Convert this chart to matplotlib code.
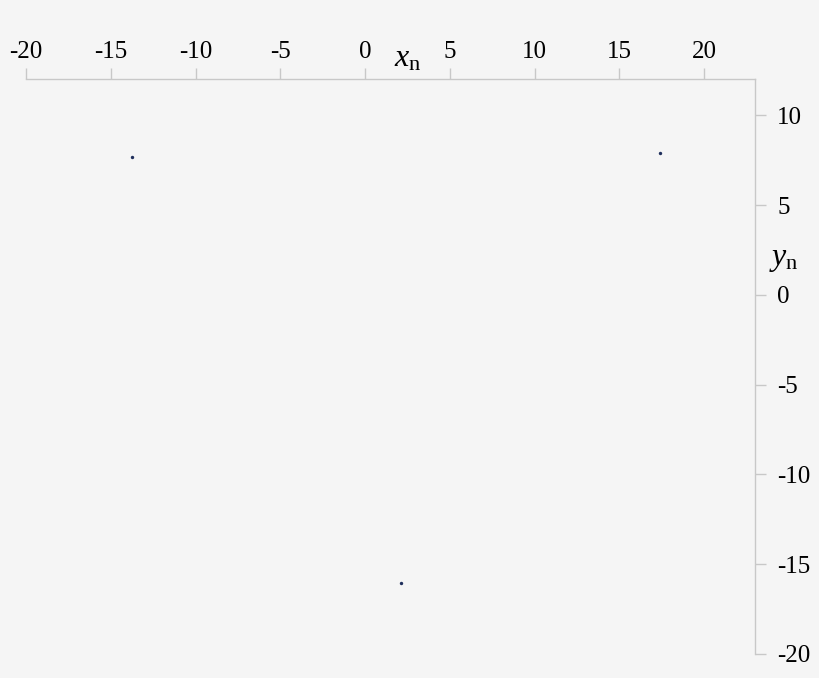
import matplotlib.pyplot as plt

# data
xn = [-13.73, 17.42, 2.14]
yn = [7.66, 7.92, -16.06]
xticks = [-20, -15, -10, -5, 0, 5, 10, 15, 20]
yticks = [10, 5, 0, -5, -10, -15, -20]

bg = '#f5f5f5'
axis_col = '#c8c8c8'

plt.rcParams['font.family'] = ['Liberation Serif', 'DejaVu Serif']
plt.rcParams['mathtext.fontset'] = 'custom'
plt.rcParams['mathtext.rm'] = 'Liberation Serif'
plt.rcParams['mathtext.it'] = 'Liberation Serif:italic'

fig = plt.figure(figsize=(8.2, 6.78), dpi=100, facecolor=bg)
ax = fig.add_axes([0.0317, 0.0354, 0.889, 0.8476], facecolor=bg)

ax.scatter(xn, yn, s=6, color='#1f2f5c', linewidths=0, zorder=3)

ax.set_xlim(-20, 23)
ax.set_ylim(-20, 12)

for side in ['left', 'bottom']:
    ax.spines[side].set_visible(False)
for side in ['top', 'right']:
    ax.spines[side].set_color(axis_col)
    ax.spines[side].set_linewidth(1)

ax.xaxis.tick_top()
ax.yaxis.tick_right()
ax.set_xticks(xticks)
ax.set_yticks(yticks)
ax.set_xticklabels([str(t) for t in xticks])
ax.set_yticklabels([str(t) for t in yticks])
ax.tick_params(axis='both', direction='out', length=8, width=1,
               color=axis_col, labelsize=18, labelcolor='black')
ax.tick_params(axis='x', pad=4)
ax.tick_params(axis='y', pad=8)

# axis titles sit between tick labels
ax.text(2.5, 12.3, r'$x_\mathrm{n}$', fontsize=23, ha='center', va='bottom',
        transform=ax.transData, clip_on=False)
ax.text(24.7, 1.95, r'$y_\mathrm{n}$', fontsize=23, ha='center', va='center',
        transform=ax.transData, clip_on=False)

fig.savefig('out.png', dpi=100, facecolor=bg)
